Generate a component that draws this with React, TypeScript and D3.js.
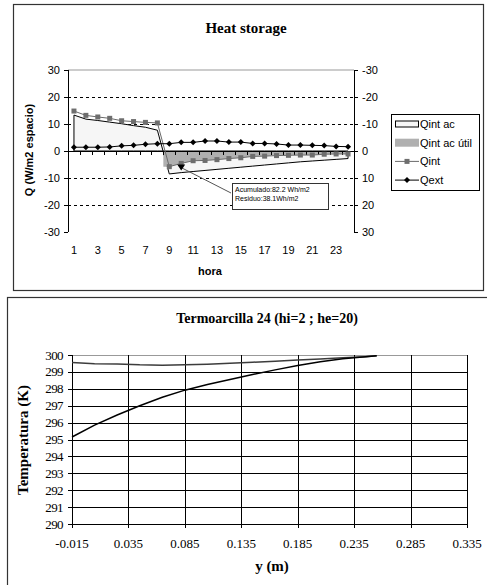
import React from "react";
import * as d3 from "d3";

// ---------- Top chart data ----------
const hours = d3.range(1, 25);
const qint = [14.8, 13.2, 12.6, 12.1, 11.2, 10.9, 10.6, 10.4, -5.8, -4.6, -3.6, -3.5, -3.2, -2.8, -2.5, -2.0, -1.9, -1.7, -1.6, -1.5, -1.5, -1.2, -1.1, -1.1];
const qext = [1.4, 1.4, 1.4, 1.5, 1.9, 2.1, 2.5, 2.7, 2.7, 3.2, 3.2, 3.7, 3.7, 3.3, 3.3, 2.8, 2.8, 2.6, 2.2, 2.2, 2.1, 2.0, 1.7, 1.6];
const qintAc = [13.3, 11.8, 11.3, 10.7, 10.1, 9.4, 8.8, 7.7, -8.5, -8.0, -7.6, -7.2, -6.8, -6.4, -6.0, -5.6, -5.2, -4.8, -4.4, -4.0, -3.7, -3.4, -3.1, -2.8];
const utilHours = [8.5, 8.5, 9, 10, 11, 12, 13, 14, 15, 16, 17, 18, 19, 20, 21, 22, 23, 24];
const utilValues = [0, -5.8, -5.8, -4.6, -3.6, -3.5, -3.2, -2.8, -2.5, -2.0, -1.9, -1.7, -1.6, -1.5, -1.5, -1.2, -1.1, -1.1];
const qTicks = [-30, -20, -10, 0, 10, 20, 30];
const hourLabels = [1, 3, 5, 7, 9, 11, 13, 15, 17, 19, 21, 23];
const legendItems = ["Qint ac", "Qint ac útil", "Qint", "Qext"];
const annotation = ["Acumulado:82.2 Wh/m2", "Residuo:38.1Wh/m2"];

// ---------- Bottom chart data ----------
const posY = [-0.015, 0.005, 0.025, 0.045, 0.065, 0.085, 0.105, 0.125, 0.145, 0.165, 0.185, 0.205, 0.225, 0.245, 0.255];
const tempA = [299.55, 299.48, 299.47, 299.42, 299.4, 299.43, 299.46, 299.51, 299.57, 299.63, 299.7, 299.76, 299.83, 299.9, 299.96];
const tempB = [295.15, 295.85, 296.45, 297.0, 297.5, 297.92, 298.25, 298.55, 298.85, 299.12, 299.38, 299.6, 299.78, 299.9, 299.95];
const tempTicks = d3.range(290, 301);
const posTicks = [-0.015, 0.035, 0.085, 0.135, 0.185, 0.235, 0.285, 0.335];

const SANS = "'Liberation Sans', Arial, sans-serif";
const SERIF = "'Liberation Serif', 'Times New Roman', serif";

function TopChart() {
  const x = d3.scaleLinear().domain([0.5, 24.5]).range([68, 354]);
  const y = d3.scaleLinear().domain([-30, 30]).range([232, 70]);
  const y2 = d3.scaleLinear().domain([30, -30]).range([232, 70]);

  const acPts: [number, number][] = hours.map((h, i) => [h, qintAc[i]]);
  const area = d3
    .area<[number, number]>()
    .x((d) => x(d[0]))
    .y0(y(0))
    .y1((d) => y(d[1]));
  const utilPts: [number, number][] = utilHours.map((h, i) => [h, utilValues[i]]);
  const line = d3
    .line<[number, number]>()
    .x((d) => x(d[0]))
    .y((d) => y(d[1]));
  const qintPts: [number, number][] = hours.map((h, i) => [h, qint[i]]);
  const qextPts: [number, number][] = hours.map((h, i) => [h, qext[i]]);
  const boundaries = d3.range(0.5, 25, 1);

  const legX = 391;
  const legY = 114;
  const rowY = (i: number) => legY + 10 + i * 18.7;

  return (
    <g>
      <rect x={13.5} y={4.5} width={470} height={286} fill="#fff" stroke="#333" strokeWidth={1.2} />
      <text x={246} y={33} textAnchor="middle" fontFamily={SERIF} fontWeight="bold" fontSize={15}>
        Heat storage
      </text>
      {/* plot top border */}
      <line x1={x(0.5)} x2={x(24.5)} y1={y(30)} y2={y(30)} stroke="#999" strokeWidth={1} />
      {/* dashed gridlines */}
      {[-20, -10, 10, 20].map((v) => (
        <line key={v} x1={x(0.5)} x2={x(24.5)} y1={y(v) + 0.5} y2={y(v) + 0.5} stroke="#000" strokeWidth={1} strokeDasharray="3,3" />
      ))}
      {/* areas */}
      <path d={area(acPts) || ""} fill="#f6f6f6" stroke="#000" strokeWidth={1} />
      <path d={area(utilPts) || ""} fill="#b0b0b0" stroke="none" />
      {/* zero axis */}
      <line x1={x(0.5)} x2={x(24.5)} y1={y(0) + 0.5} y2={y(0) + 0.5} stroke="#000" strokeWidth={1} />
      {boundaries.map((b) => (
        <line key={b} x1={Math.round(x(b)) + 0.5} x2={Math.round(x(b)) + 0.5} y1={y(0)} y2={y(0) + 4} stroke="#000" />
      ))}
      {/* left axis */}
      <line x1={x(0.5) + 0.5} x2={x(0.5) + 0.5} y1={y(30)} y2={y(-30)} stroke="#000" />
      {qTicks.map((t) => (
        <g key={"l" + t}>
          <line x1={x(0.5) - 4} x2={x(0.5)} y1={y(t) + 0.5} y2={y(t) + 0.5} stroke="#000" />
          <text x={60} y={y(t) + 4} textAnchor="end" fontFamily={SANS} fontSize={11}>
            {t}
          </text>
        </g>
      ))}
      {/* right axis */}
      <line x1={x(24.5) + 0.5} x2={x(24.5) + 0.5} y1={y(30)} y2={y(-30)} stroke="#000" />
      {qTicks.map((t) => (
        <g key={"r" + t}>
          <line x1={x(24.5)} x2={x(24.5) + 4} y1={y2(t) + 0.5} y2={y2(t) + 0.5} stroke="#000" />
          <text x={362} y={y2(t) + 4} textAnchor="start" fontFamily={SANS} fontSize={11}>
            {t}
          </text>
        </g>
      ))}
      {/* x labels */}
      {hourLabels.map((h) => (
        <text key={h} x={x(h)} y={254} textAnchor="middle" fontFamily={SANS} fontSize={11}>
          {h}
        </text>
      ))}
      <text x={210} y={275} textAnchor="middle" fontFamily={SANS} fontWeight="bold" fontSize={11}>
        hora
      </text>
      <text transform={`translate(33,150) rotate(-90)`} textAnchor="middle" fontFamily={SANS} fontWeight="bold" fontSize={11}>
        Q (W/m2 espacio)
      </text>
      {/* Qint line */}
      <path d={line(qintPts) || ""} fill="none" stroke="#6a6a6a" strokeWidth={1} />
      {qintPts.map((p, i) => (
        <rect key={i} x={x(p[0]) - 2.5} y={y(p[1]) - 2.5} width={5} height={5} fill="#6e6e6e" />
      ))}
      {/* Qext line */}
      <path d={line(qextPts) || ""} fill="none" stroke="#000" strokeWidth={1} />
      {qextPts.map((p, i) => (
        <path key={i} d={`M${x(p[0])},${y(p[1]) - 3}L${x(p[0]) + 3},${y(p[1])}L${x(p[0])},${y(p[1]) + 3}L${x(p[0]) - 3},${y(p[1])}Z`} fill="#000" />
      ))}
      {/* annotation */}
      <line x1={231} y1={193} x2={182} y2={168} stroke="#555" strokeWidth={1} />
      <path d={`M${x(10) - 4},${y(-5)}L${x(10) + 4},${y(-5)}L${x(10)},${y(-5) + 6}Z`} fill="#000" />
      <rect x={232.5} y={183.5} width={96} height={26} fill="#fff" stroke="#333" strokeWidth={1} />
      {annotation.map((t, i) => (
        <text key={i} x={235} y={191.5 + i * 9.5} fontFamily={SANS} fontSize={7}>
          {t}
        </text>
      ))}
      {/* legend */}
      <rect x={legX + 0.5} y={legY + 0.5} width={88} height={76} fill="#fff" stroke="#000" strokeWidth={1} />
      <rect x={395.5} y={rowY(0) - 3} width={23} height={6} fill="#f6f6f6" stroke="#000" strokeWidth={1} />
      <rect x={395} y={rowY(1) - 4} width={24} height={8} fill="#b0b0b0" />
      <line x1={395} x2={419} y1={rowY(2)} y2={rowY(2)} stroke="#6a6a6a" />
      <rect x={404.5} y={rowY(2) - 2.5} width={5} height={5} fill="#6e6e6e" />
      <line x1={395} x2={419} y1={rowY(3)} y2={rowY(3)} stroke="#000" />
      <path d={`M407,${rowY(3) - 3}L410,${rowY(3)}L407,${rowY(3) + 3}L404,${rowY(3)}Z`} fill="#000" />
      {legendItems.map((t, i) => (
        <text key={t} x={420} y={rowY(i) + 4} fontFamily={SANS} fontSize={11}>
          {t}
        </text>
      ))}
    </g>
  );
}

function BottomChart() {
  const x = d3.scaleLinear().domain([-0.015, 0.335]).range([72, 467]);
  const y = d3.scaleLinear().domain([290, 300]).range([524, 355]);
  const line = d3
    .line<number>()
    .x((_, i) => x(posY[i]))
    .y((d) => y(d));
  const fmt = (v: number) => d3.format(".3f")(v).replace("\u2212", "-");
  return (
    <g>
      <rect x={7.5} y={297.5} width={490} height={300} fill="#fff" stroke="#333" strokeWidth={1.2} />
      <text x={267} y={323} textAnchor="middle" fontFamily={SERIF} fontWeight="bold" fontSize={14}>
        Termoarcilla 24 (hi=2 ; he=20)
      </text>
      {/* horizontal grid */}
      {tempTicks.map((t) => (
        <line key={t} x1={x(-0.015)} x2={x(0.335)} y1={Math.round(y(t)) + 0.5} y2={Math.round(y(t)) + 0.5} stroke={t === 300 ? "#999" : "#000"} strokeWidth={1} />
      ))}
      {/* vertical grid */}
      {posTicks.map((t) => (
        <line key={t} x1={Math.round(x(t)) + 0.5} x2={Math.round(x(t)) + 0.5} y1={y(300)} y2={y(290) + 4} stroke="#000" strokeWidth={1} />
      ))}
      {tempTicks.map((t) => (
        <g key={"t" + t}>
          <line x1={x(-0.015) - 4} x2={x(-0.015)} y1={Math.round(y(t)) + 0.5} y2={Math.round(y(t)) + 0.5} stroke="#000" />
          <text x={63} y={y(t) + 4.5} textAnchor="end" fontFamily={SERIF} fontSize={13} letterSpacing={-0.6}>
            {t}
          </text>
        </g>
      ))}
      {posTicks.map((t) => (
        <text key={"x" + t} x={x(t)} y={548} textAnchor="middle" fontFamily={SERIF} fontSize={13}>
          {fmt(t)}
        </text>
      ))}
      <text x={272} y={571} textAnchor="middle" fontFamily={SERIF} fontWeight="bold" fontSize={15}>
        y (m)
      </text>
      <text transform={`translate(28,440) rotate(-90)`} textAnchor="middle" fontFamily={SERIF} fontWeight="bold" fontSize={15}>
        Temperatura (K)
      </text>
      <path d={line(tempA) || ""} fill="none" stroke="#3c3c3c" strokeWidth={1.5} />
      <path d={line(tempB) || ""} fill="none" stroke="#000" strokeWidth={1.5} />
    </g>
  );
}

export default function App() {
  return (
    <svg
      width={487}
      height={585}
      style={{ position: "absolute", left: 0, top: 0, background: "#fff" }}
    >
      <rect x={0} y={0} width={487} height={585} fill="#fff" />
      <TopChart />
      <BottomChart />
    </svg>
  );
}
